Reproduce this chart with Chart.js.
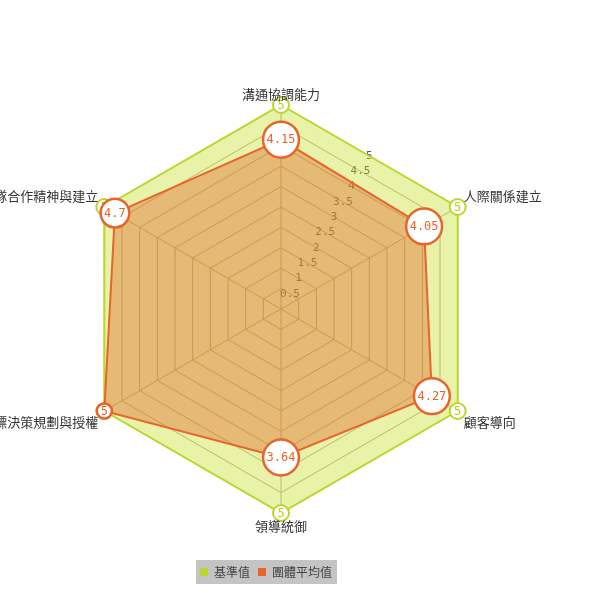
<!DOCTYPE html>
<html>
<head>
<meta charset="utf-8">
<script src="https://cdn.jsdelivr.net/npm/chart.js@4.4.1/dist/chart.umd.min.js"></script>
<style>
html,body{margin:0;padding:0;background:#ffffff;}
#wrap{width:600px;height:600px;}
</style>
</head>
<body>
<div id="wrap"><canvas id="c" width="600" height="600"></canvas></div>
<script>
// ---- data ----
const categories = ['溝通協調能力', '人際關係建立', '顧客導向', '領導統御', '目標決策規劃與授權', '團隊合作精神與建立'];
const baseLabel = '基準值';
const baseValues = [5, 5, 5, 5, 5, 5];
const avgLabel = '團體平均值';
const avgValues = [4.15, 4.05, 4.27, 3.64, 5, 4.7];
const tickMin = 0;
const tickMax = 5;
const tickStep = 0.5;

// ---- styles ----
const GREEN = '#bad72a';
const GREEN_FILL = 'rgba(195,224,28,0.38)';
const ORANGE = '#e8642c';
const ORANGE_FILL = 'rgba(226,100,44,0.40)';
const GRID = '#b0a890';
const VALUE_FONT = '12px "DejaVu Sans Mono", monospace';
const TICK_FONT = '11px "DejaVu Sans Mono", monospace';
const CAT_FONT = '13px "Noto Sans CJK TC", sans-serif';

function fmt(v) { return String(v); }

function valueRadius(ctx) {
  if (ctx.type !== 'data') return 8;
  const c = ctx.chart.ctx;
  c.save();
  c.font = VALUE_FONT;
  const w = c.measureText(fmt(ctx.raw)).width;
  c.restore();
  return Math.max(7.5, w / 2 + 3.5);
}

// tick labels along the bisector of first two spokes, drawn under the fills
const tickLabelPlugin = {
  id: 'tickLabels',
  beforeDatasetsDraw(chart) {
    const s = chart.scales.r;
    const c = chart.ctx;
    c.save();
    c.font = TICK_FONT;
    c.fillStyle = '#555555';
    c.textAlign = 'center';
    c.textBaseline = 'middle';
    s.ticks.forEach(t => {
      if (t.value <= tickMin) return;
      const d = s.getDistanceFromCenterForValue(t.value);
      const p0 = s.getPointPosition(0, d);
      const p1 = s.getPointPosition(1, d);
      c.fillText(fmt(t.value), (p0.x + p1.x) / 2, (p0.y + p1.y) / 2);
    });
    c.restore();
  }
};

// value labels inside the point circles, drawn right after each dataset
const valueLabelPlugin = {
  id: 'valueLabels',
  afterDatasetDraw(chart, args) {
    const ds = chart.data.datasets[args.index];
    const c = chart.ctx;
    c.save();
    c.font = VALUE_FONT;
    c.fillStyle = ds.labelColor;
    c.textAlign = 'center';
    c.textBaseline = 'middle';
    args.meta.data.forEach((el, i) => {
      c.fillText(fmt(ds.data[i]), el.x, el.y + 0.5);
    });
    c.restore();
  }
};

// category labels around the polygon
const categoryLabelPlugin = {
  id: 'categoryLabels',
  afterDatasetsDraw(chart) {
    const s = chart.scales.r;
    const c = chart.ctx;
    c.save();
    c.font = CAT_FONT;
    c.fillStyle = '#333333';
    c.textBaseline = 'middle';
    categories.forEach((lab, i) => {
      const p = s.getPointPosition(i, s.drawingArea);
      const dx = p.x - s.xCenter;
      const dy = p.y - s.yCenter;
      let x = p.x, y = p.y;
      if (Math.abs(dx) < 1) {
        c.textAlign = 'center';
        y += dy < 0 ? -11 : 13.5;
      } else {
        c.textAlign = dx > 0 ? 'left' : 'right';
        x += dx > 0 ? 6 : -6;
        y += dy < 0 ? -10.5 : 11;
      }
      c.fillText(lab, x, y);
    });
    c.restore();
  }
};

// legend: gray backdrop and position tweak
const legendBoxPlugin = {
  id: 'legendBox',
  afterLayout(chart) {
    const lg = chart.legend;
    if (lg) { lg.left -= 15; lg.right -= 15; }
  },
  beforeDraw(chart) {
    const lg = chart.legend;
    if (!lg || !lg.lineWidths) return;
    const pad = lg.options.labels.padding;
    const total = lg.lineWidths[0] - pad;
    const cx = (lg.left + lg.right) / 2;
    const c = chart.ctx;
    c.save();
    c.fillStyle = '#c4c4c4';
    c.fillRect(Math.round(cx - total / 2 - 4), lg.top + pad - 6, Math.round(total + 9), 24);
    c.restore();
  }
};

new Chart(document.getElementById('c'), {
  type: 'radar',
  data: {
    labels: categories,
    datasets: [
      {
        label: baseLabel,
        data: baseValues,
        order: 2,
        fill: true,
        backgroundColor: GREEN_FILL,
        borderColor: GREEN,
        borderWidth: 2,
        pointBackgroundColor: '#ffffff',
        pointBorderColor: GREEN,
        pointBorderWidth: 2,
        pointRadius: 8,
        labelColor: '#b5d020'
      },
      {
        label: avgLabel,
        data: avgValues,
        order: 1,
        fill: true,
        backgroundColor: ORANGE_FILL,
        borderColor: ORANGE,
        borderWidth: 2,
        pointBackgroundColor: '#ffffff',
        pointBorderColor: ORANGE,
        pointBorderWidth: 2.5,
        pointRadius: valueRadius,
        labelColor: ORANGE
      }
    ]
  },
  options: {
    responsive: false,
    animation: false,
    devicePixelRatio: 1,
    layout: { padding: { left: 77, right: 115, top: 60, bottom: 12 } },
    elements: { line: { tension: 0 } },
    plugins: {
      tooltip: { enabled: false },
      legend: {
        position: 'bottom',
        labels: {
          font: { size: 12, family: '"Noto Sans CJK TC", sans-serif' },
          color: '#444444',
          boxWidth: 8,
          boxHeight: 8,
          padding: 8,
          sort: (a, b) => a.datasetIndex - b.datasetIndex,
          generateLabels(chart) {
            const items = Chart.defaults.plugins.legend.labels.generateLabels(chart);
            return items.map(it => {
              const ds = chart.data.datasets[it.datasetIndex];
              it.fillStyle = ds.borderColor;
              it.strokeStyle = ds.borderColor;
              it.lineWidth = 0;
              return it;
            });
          }
        }
      }
    },
    scales: {
      r: {
        min: tickMin,
        max: tickMax,
        ticks: { display: false, stepSize: tickStep },
        grid: { color: GRID, lineWidth: 1 },
        angleLines: { color: GRID, lineWidth: 1 },
        pointLabels: { display: false }
      }
    }
  },
  plugins: [tickLabelPlugin, valueLabelPlugin, categoryLabelPlugin, legendBoxPlugin]
});
</script>
</body>
</html>
